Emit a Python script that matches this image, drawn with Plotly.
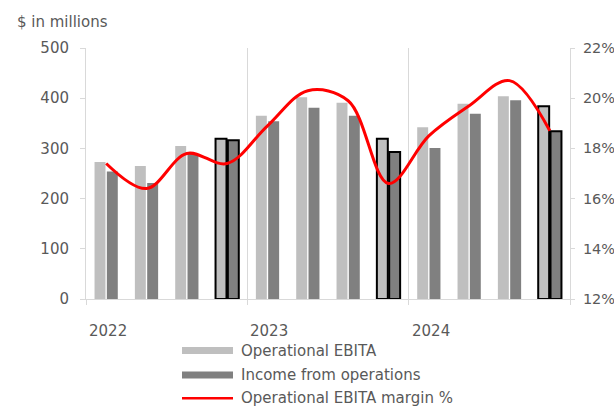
import plotly.graph_objects as go

quarters = list(range(12))
year_labels = ["2022", "2023", "2024"]
year_start_idx = [0, 4, 8]
operational_ebita = [273, 265, 305, 319, 365, 402, 391, 319, 342, 389, 404, 384]
income_from_operations = [254, 231, 289, 316, 354, 381, 365, 293, 301, 369, 396, 334]
ebita_margin_pct = [17.4, 16.4, 17.8, 17.4, 18.9, 20.3, 19.9, 16.6, 18.5, 19.7, 20.7, 18.7]
outlined = [False, False, False, True, False, False, False, True, False, False, False, True]
legend_labels = ["Operational EBITA", "Income from operations", "Operational EBITA margin %"]

LIGHT = "#bfbfbf"
DARK = "#808080"
RED = "#ff0000"
TXT = "#595959"
AX = "#d9d9d9"
FONT = "DejaVu Sans"

line_colors = ["#000000" if o else "rgba(0,0,0,0)" for o in outlined]
line_widths = [2 if o else 0 for o in outlined]

fig = go.Figure()
fig.add_trace(go.Bar(x=quarters, y=operational_ebita, name=legend_labels[0],
                     marker=dict(color=LIGHT, line=dict(color=line_colors, width=line_widths))))
fig.add_trace(go.Bar(x=quarters, y=income_from_operations, name=legend_labels[1],
                     marker=dict(color=DARK, line=dict(color=line_colors, width=line_widths))))
fig.add_trace(go.Scatter(x=quarters, y=ebita_margin_pct, name=legend_labels[2], yaxis="y2",
                         mode="lines", line=dict(color=RED, width=3, shape="spline", smoothing=1)))

W, H = 614, 406
L, R, T, B = 86, 44, 48, 107
pw, ph = W - L - R, H - T - B

def px(x):
    return (x - L) / pw

def py(y):
    return (H - B - y) / ph

shapes = [
    dict(type="rect", xref="paper", yref="paper", x0=px(182), x1=px(233), y0=py(347), y1=py(354),
         fillcolor=LIGHT, line=dict(width=0)),
    dict(type="rect", xref="paper", yref="paper", x0=px(182), x1=px(233), y0=py(371.5), y1=py(378.5),
         fillcolor=DARK, line=dict(width=0)),
    dict(type="line", xref="paper", yref="paper", x0=px(182), x1=px(233), y0=py(398.3), y1=py(398.3),
         line=dict(color=RED, width=2.5)),
]
annotations = [
    dict(text="$ in millions", xref="paper", yref="paper", x=px(15), y=py(22), xanchor="left",
         yanchor="middle", showarrow=False, font=dict(family=FONT, size=15, color=TXT)),
]
for lab, yy in zip(legend_labels, [350.7, 375, 398.3]):
    annotations.append(dict(text=lab, xref="paper", yref="paper", x=px(239), y=py(yy), xanchor="left",
                            yanchor="middle", showarrow=False, font=dict(family=FONT, size=15, color=TXT)))
for lab, idx in zip(year_labels, year_start_idx):
    annotations.append(dict(text=lab, xref="x", yref="paper", x=idx - 0.5, y=py(331), xanchor="left",
                            xshift=1, yanchor="middle", showarrow=False,
                            font=dict(family=FONT, size=15, color=TXT)))

fig.update_layout(
    width=W, height=H,
    margin=dict(l=L, r=R, t=T, b=B, autoexpand=False),
    paper_bgcolor="white", plot_bgcolor="white",
    showlegend=False,
    barmode="group", bargap=0.39, bargroupgap=0.11,
    font=dict(family=FONT, size=15, color=TXT),
    shapes=shapes, annotations=annotations,
    xaxis=dict(range=[-0.5, 11.5], tickvals=[-0.5, 3.5, 7.5, 11.5], showticklabels=False,
               ticks="outside", ticklen=5, tickcolor=AX, showline=True, linecolor=AX, linewidth=1,
               showgrid=True, gridcolor=AX, gridwidth=1, zeroline=False, automargin=False),
    yaxis=dict(range=[0, 500], dtick=100, showgrid=False, zeroline=False, showline=True,
               linecolor=AX, ticks="outside", ticklen=5, tickcolor=AX, ticklabelstandoff=8,
               automargin=False, tickfont=dict(family=FONT, size=15, color=TXT)),
    yaxis2=dict(range=[12, 22], dtick=2, ticksuffix="%", overlaying="y", side="right",
                showgrid=False, zeroline=False, showline=True, linecolor=AX, ticks="outside",
                ticklen=4, tickcolor=AX, ticklabelstandoff=5, automargin=False,
                tickfont=dict(family=FONT, size=14.5, color=TXT)),
)

fig.write_html("out.html", config={"displayModeBar": False},
               post_script="document.body.style.margin='0px';document.body.style.overflow='hidden';")
